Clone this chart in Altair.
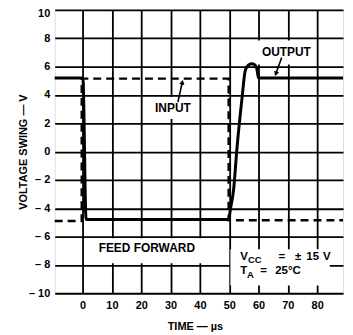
import altair as alt
import pandas as pd

# ---- data ----
out_t = [-9.5, 0.1, 1.2, 49.8, 50.4, 51.5, 52.6, 54.3, 55.5, 56.5, 57.6, 58.6, 59.4, 60.0, 88.8]
out_v = [5.2, 5.2, -4.8, -4.8, -4.07, -2.67, 0.14, 3.65, 5.75, 6.1, 6.2, 6.15, 5.87, 5.2, 5.2]
in_t = [-9.5, -0.3, -0.3, 49.8, 49.8, 88.8]
in_v = [-4.9, -4.9, 5.15, 5.15, -4.85, -4.85]
x_ticks = [0, 10, 20, 30, 40, 50, 60, 70, 80]
y_ticks = [-10, -8, -6, -4, -2, 0, 2, 4, 6, 8, 10]
x_domain = [-9.5, 88.8]
y_domain = [-10, 10]

ann_text = ["INPUT", "OUTPUT", "FEED FORWARD"]
ann_x = [30.8, 69.5, 21.9]
ann_y = [3.09, 7.05, -6.84]

cond_text = ["V", "=", "±", "15", "V", "T", "=", "25°C"]
cond_x = [53.8, 66.8, 72.4, 76.3, 82.0, 53.8, 60.6, 65.7]
cond_y = [-7.45, -7.45, -7.45, -7.45, -7.45, -8.45, -8.45, -8.45]
sub_text = ["CC", "A"]
sub_x = [56.4, 56.1]
sub_y = [-7.62, -8.68]

box_x = [22.5, 59.5, 3.0, 50.4]
box_x2 = [37.8, 77.0, 41.5, 84.3]
box_y = [3.85, 7.85, -6.12, -6.9]
box_y2 = [2.3, 6.15, -7.88, -9.45]

arr_x = [32.5, 67.9]
arr_y = [3.49, 6.65]
arr_x2 = [34.0, 65.9]
arr_y2 = [4.9, 5.49]
arr_angle = [12, 200]

FONT = "Liberation Sans"

out_df = pd.DataFrame({"t": out_t, "v": out_v, "i": range(len(out_t))})
in_df = pd.DataFrame({"t": in_t, "v": in_v, "i": range(len(in_t))})
ann_df = pd.DataFrame({"t": ann_x, "v": ann_y, "label": ann_text})
cond_df = pd.DataFrame({"t": cond_x, "v": cond_y, "label": cond_text})
sub_df = pd.DataFrame({"t": sub_x, "v": sub_y, "label": sub_text})
box_df = pd.DataFrame({"t": box_x, "t2": box_x2, "v": box_y, "v2": box_y2})
arr_df = pd.DataFrame({"t": arr_x, "v": arr_y, "t2": arr_x2, "v2": arr_y2, "ang": arr_angle})

xs = alt.Scale(domain=x_domain, nice=False, zero=False)
ys = alt.Scale(domain=y_domain, nice=False, zero=False)

x_axis = alt.Axis(
    values=x_ticks, grid=True, gridColor="black", gridWidth=1.8, gridOpacity=1,
    ticks=False, tickSize=0, domain=False, labelFont=FONT, labelFontSize=11,
    labelFontWeight="bold", labelColor="black", labelPadding=6, labelFlush=False,
    labelOverlap=False,
    title="TIME — µs", titleFont=FONT, titleFontSize=11, titleFontWeight="bold",
    titleColor="black", titleX=141, titleY=33, titleAlign="center", titleBaseline="middle",
)
y_axis = alt.Axis(
    values=y_ticks, grid=True, gridColor="black", gridWidth=1.8, gridOpacity=1,
    ticks=False, tickSize=0, domain=False, labelFont=FONT, labelFontSize=11,
    labelFontWeight="bold", labelColor="black", labelPadding=5, labelFlush=False,
    labelOverlap=False,
    labelOffset={"condition": {"test": "datum.value == 10", "value": 4}, "value": 0},
    labelExpr="datum.value < 0 ? '– ' + abs(datum.value) : '' + datum.value",
    title="VOLTAGE SWING — V", titleFont=FONT, titleFontSize=11, titleFontWeight="bold",
    titleColor="black", titleX=-31, titleY=142.5, titleAngle=270, titleAlign="center",
    titleBaseline="middle",
)

X1 = alt.X("t:Q", scale=xs, axis=x_axis)
Y1 = alt.Y("v:Q", scale=ys, axis=y_axis)
X2 = alt.X("t2:Q", scale=xs, axis=x_axis)
Y2 = alt.Y("v2:Q", scale=ys, axis=y_axis)

boxes = alt.Chart(box_df).mark_rect(color="white").encode(
    x=X1, x2="t2:Q", y=Y1, y2="v2:Q",
)

inp = alt.Chart(in_df).mark_line(color="black", strokeWidth=2.4, strokeDash=[8, 5]).encode(
    x=X1, y=Y1, order="i:Q"
)
outp = alt.Chart(out_df).mark_line(color="black", strokeWidth=3, interpolate="monotone").encode(
    x=X1, y=Y1, order="i:Q"
)

ann = alt.Chart(ann_df).mark_text(font=FONT, fontSize=12, fontWeight="bold", color="black",
                                  align="center", baseline="middle").encode(
    x=X1, y=Y1, text="label:N"
)
cond = alt.Chart(cond_df).mark_text(font=FONT, fontSize=11.5, fontWeight="bold", color="black",
                                    align="left", baseline="middle").encode(
    x=X1, y=Y1, text="label:N"
)
sub = alt.Chart(sub_df).mark_text(font=FONT, fontSize=9.5, fontWeight="bold", color="black",
                                  align="left", baseline="middle").encode(
    x=X1, y=Y1, text="label:N"
)
shafts = alt.Chart(arr_df).mark_rule(color="black", strokeWidth=1.6).encode(
    x=X1, y=Y1, x2="t2:Q", y2="v2:Q"
)
heads = alt.Chart(arr_df).mark_point(shape="triangle-up", filled=True, color="black",
                                     size=28, opacity=1).encode(
    x=X2, y=Y2, angle=alt.Angle("ang:Q", scale=None)
)

chart = alt.layer(boxes, inp, outp, shafts, heads, ann, cond, sub).properties(
    width=290, height=285,
    padding={"left": 47, "top": 1, "right": 2, "bottom": 38},
    autosize=alt.AutoSizeParams(type="none"),
).configure_view(stroke="black", strokeWidth=2.5).configure(background="white")

chart.save("out.html", embed_options={"renderer": "svg", "actions": False})
